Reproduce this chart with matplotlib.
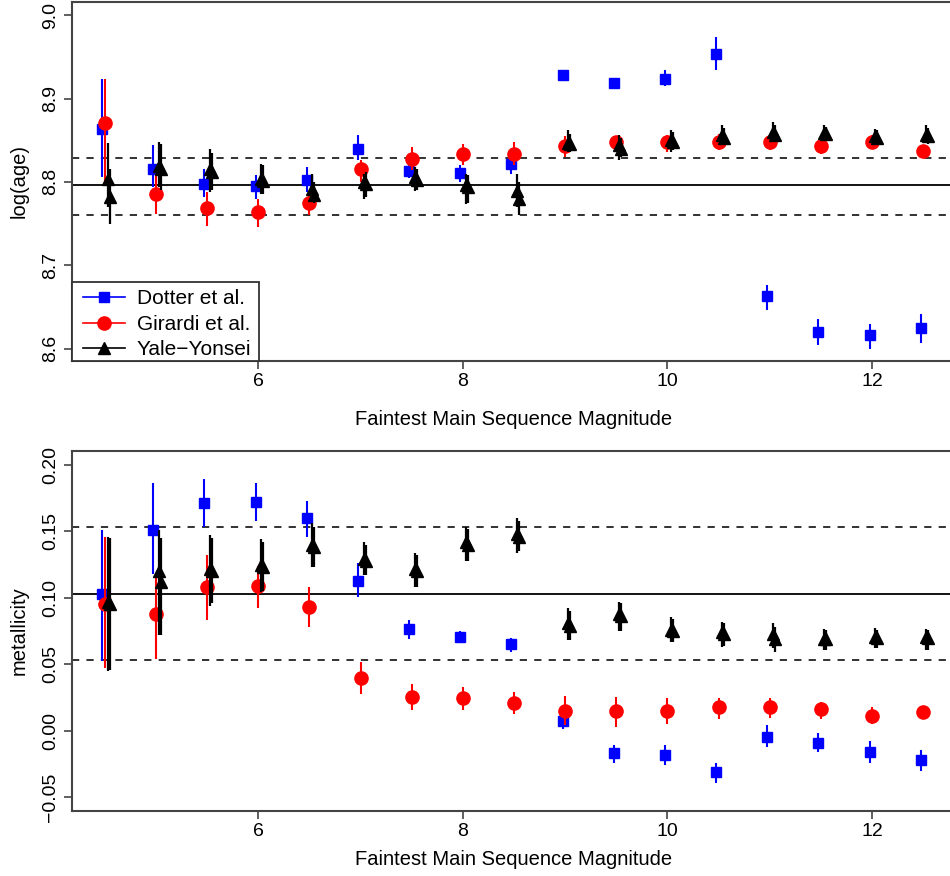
import matplotlib
matplotlib.use("Agg")
import matplotlib.pyplot as plt
from matplotlib.lines import Line2D
from matplotlib.patches import Rectangle
import numpy as np

plt.rcParams['font.family'] = ['Liberation Sans', 'DejaVu Sans']

mags = [4.5, 5.0, 5.5, 6.0, 6.5, 7.0, 7.5, 8.0, 8.5, 9.0, 9.5, 10.0, 10.5, 11.0, 11.5, 12.0, 12.5]

# ---------------- log(age) panel ----------------
age_dotter    = [8.864, 8.815, 8.798, 8.795, 8.802, 8.840, 8.813, 8.811, 8.821, 8.928, 8.919, 8.924, 8.954, 8.663, 8.620, 8.616, 8.625]
age_dotter_lo = [8.806, 8.794, 8.782, 8.780, 8.788, 8.826, 8.805, 8.800, 8.810, 8.925, 8.916, 8.915, 8.934, 8.646, 8.604, 8.600, 8.607]
age_dotter_hi = [8.924, 8.844, 8.816, 8.808, 8.818, 8.856, 8.822, 8.820, 8.830, 8.931, 8.922, 8.934, 8.974, 8.676, 8.635, 8.630, 8.642]

age_girardi    = [8.871, 8.785, 8.769, 8.764, 8.775, 8.815, 8.828, 8.833, 8.833, 8.843, 8.848, 8.848, 8.848, 8.848, 8.843, 8.848, 8.837]
age_girardi_lo = [8.800, 8.762, 8.747, 8.746, 8.760, 8.800, 8.814, 8.820, 8.820, 8.830, 8.842, 8.836, 8.838, 8.838, 8.833, 8.840, 8.830]
age_girardi_hi = [8.924, 8.810, 8.788, 8.780, 8.786, 8.826, 8.842, 8.846, 8.848, 8.855, 8.854, 8.856, 8.858, 8.856, 8.853, 8.856, 8.843]

age_yale_a    = [8.804, 8.819, 8.815, 8.803, 8.791, 8.800, 8.806, 8.796, 8.789, 8.847, 8.844, 8.850, 8.856, 8.860, 8.859, 8.855, 8.856]
age_yale_a_lo = [8.770, 8.794, 8.788, 8.786, 8.778, 8.780, 8.789, 8.773, 8.770, 8.836, 8.826, 8.836, 8.846, 8.850, 8.852, 8.848, 8.848]
age_yale_a_hi = [8.847, 8.848, 8.840, 8.822, 8.810, 8.810, 8.818, 8.810, 8.810, 8.862, 8.856, 8.862, 8.868, 8.872, 8.868, 8.864, 8.868]

age_yale_b    = [8.782, 8.815, 8.812, 8.801, 8.784, 8.798, 8.802, 8.794, 8.780, 8.845, 8.840, 8.848, 8.853, 8.856, 8.858, 8.853, 8.855]
age_yale_b_lo = [8.749, 8.790, 8.790, 8.786, 8.775, 8.782, 8.790, 8.775, 8.760, 8.836, 8.830, 8.838, 8.845, 8.848, 8.850, 8.846, 8.846]
age_yale_b_hi = [8.815, 8.845, 8.835, 8.820, 8.800, 8.812, 8.815, 8.808, 8.800, 8.858, 8.853, 8.860, 8.865, 8.868, 8.866, 8.862, 8.865]

age_ref = [8.760, 8.796, 8.829]

# ---------------- metallicity panel ----------------
met_dotter    = [0.1026, 0.151, 0.171, 0.172, 0.160, 0.113, 0.0767, 0.0709, 0.0649, 0.0075, -0.017, -0.018, -0.031, -0.0043, -0.0088, -0.0156, -0.022]
met_dotter_lo = [0.0528, 0.118, 0.153, 0.158, 0.146, 0.1005, 0.069, 0.067, 0.059, 0.0013, -0.024, -0.026, -0.039, -0.012, -0.016, -0.024, -0.030]
met_dotter_hi = [0.151, 0.186, 0.189, 0.186, 0.173, 0.126, 0.083, 0.075, 0.070, 0.0138, -0.011, -0.011, -0.024, 0.004, -0.0013, -0.008, -0.0146]

met_girardi    = [0.0955, 0.0875, 0.108, 0.109, 0.093, 0.040, 0.0256, 0.0246, 0.0209, 0.0151, 0.0146, 0.0151, 0.0176, 0.018, 0.0164, 0.0113, 0.0138]
met_girardi_lo = [0.047, 0.054, 0.083, 0.092, 0.078, 0.028, 0.016, 0.016, 0.0126, 0.004, 0.003, 0.005, 0.0088, 0.010, 0.0088, 0.005, 0.0088]
met_girardi_hi = [0.146, 0.118, 0.132, 0.124, 0.108, 0.0515, 0.035, 0.0327, 0.029, 0.026, 0.0256, 0.0246, 0.0246, 0.0246, 0.022, 0.0176, 0.0176]

met_yale_a    = [0.0968, 0.120, 0.122, 0.125, 0.140, 0.1295, 0.122, 0.142, 0.148, 0.081, 0.0875, 0.076, 0.074, 0.0729, 0.069, 0.0704, 0.0704]
met_yale_a_lo = [0.045, 0.072, 0.094, 0.104, 0.123, 0.117, 0.108, 0.128, 0.134, 0.068, 0.075, 0.0667, 0.0633, 0.062, 0.061, 0.062, 0.061]
met_yale_a_hi = [0.146, 0.151, 0.147, 0.144, 0.156, 0.142, 0.134, 0.153, 0.160, 0.092, 0.097, 0.0855, 0.0817, 0.081, 0.0767, 0.077, 0.0767]

met_yale_b    = [0.095, 0.112, 0.120, 0.123, 0.138, 0.128, 0.120, 0.140, 0.146, 0.079, 0.086, 0.075, 0.073, 0.069, 0.069, 0.070, 0.070]
met_yale_b_lo = [0.046, 0.072, 0.096, 0.105, 0.123, 0.117, 0.108, 0.128, 0.135, 0.068, 0.075, 0.067, 0.064, 0.059, 0.061, 0.062, 0.061]
met_yale_b_hi = [0.145, 0.145, 0.145, 0.142, 0.153, 0.140, 0.132, 0.152, 0.158, 0.090, 0.096, 0.084, 0.081, 0.078, 0.076, 0.076, 0.076]

met_ref = [0.053, 0.103, 0.153]

series_labels = ["Dotter et al.", "Girardi et al.", "Yale\u2212Yonsei"]
xlabel = "Faintest Main Sequence Magnitude"
x_ticks = [6, 8, 10, 12]
age_ticks = [8.6, 8.7, 8.8, 8.9, 9.0]
age_ticklabels = ["8.6", "8.7", "8.8", "8.9", "9.0"]
met_ticks = [-0.05, 0.0, 0.05, 0.10, 0.15, 0.20]
met_ticklabels = ["\u22120.05", "0.00", "0.05", "0.10", "0.15", "0.20"]

BLUE = "#0000ff"
RED = "#ff0000"
BLACK = "#000000"
SPINE = "#444444"

W, H = 950, 876
fig = plt.figure(figsize=(W / 100, H / 100), dpi=100)


def box(l, t, r, b):
    return [l / W, 1 - b / H, (r - l) / W, (b - t) / H]


ax1 = fig.add_axes(box(72, 2, 956, 361))
ax2 = fig.add_axes(box(72, 451, 956, 811))

mx = np.array(mags)


def draw(ax, series, ref, ylim, yticks, yticklabels, ylabel, xlabelpad):
    for vals, lo, hi, dx, color, marker, ms, lw, z in series:
        v = np.array(vals)
        yerr = [v - np.array(lo), np.array(hi) - v]
        ax.errorbar(mx + dx, v, yerr=yerr, fmt=marker, color=color, ms=ms,
                    elinewidth=lw, capsize=0, mec=color, mfc=color, zorder=z)
    ax.axhline(ref[1], color="black", lw=1.3, zorder=1)
    ax.axhline(ref[0], color="#222222", lw=1.3, ls=(0, (4, 4)), zorder=1)
    ax.axhline(ref[2], color="#222222", lw=1.3, ls=(0, (4, 4)), zorder=1)
    ax.set_xlim(4.18, 12.82)
    ax.set_ylim(*ylim)
    ax.set_xticks(x_ticks)
    ax.set_xticklabels([str(t) for t in x_ticks])
    ax.set_yticks(yticks)
    ax.set_yticklabels(yticklabels, rotation=90, va="center")
    ax.tick_params(direction="out", length=6, width=1.2, color=SPINE,
                   labelsize=14, pad=3)
    for s in ax.spines.values():
        s.set_color(SPINE)
        s.set_linewidth(1.5)
    ax.set_xlabel(xlabel, fontsize=14.5, labelpad=xlabelpad)
    ax.set_ylabel(ylabel, fontsize=14.5, labelpad=10)


age_series = [
    (age_dotter, age_dotter_lo, age_dotter_hi, -0.025, BLUE, "s", 6.5, 1.5, 3),
    (age_girardi, age_girardi_lo, age_girardi_hi, 0.0, RED, "o", 9.5, 1.5, 4),
    (age_yale_a, age_yale_a_lo, age_yale_a_hi, 0.03, BLACK, "^", 8.5, 1.6, 5),
    (age_yale_b, age_yale_b_lo, age_yale_b_hi, 0.05, BLACK, "^", 8.5, 1.6, 5),
]
met_series = [
    (met_dotter, met_dotter_lo, met_dotter_hi, -0.025, BLUE, "s", 6.5, 1.5, 3),
    (met_girardi, met_girardi_lo, met_girardi_hi, 0.0, RED, "o", 9.5, 1.5, 4),
    (met_yale_a, met_yale_a_lo, met_yale_a_hi, 0.03, BLACK, "^", 8.5, 1.6, 5),
    (met_yale_b, met_yale_b_lo, met_yale_b_hi, 0.05, BLACK, "^", 8.5, 1.6, 5),
]

draw(ax1, age_series, age_ref, (8.585, 9.016), age_ticks, age_ticklabels, "log(age)", 14)
draw(ax2, met_series, met_ref, (-0.0603, 0.2104), met_ticks, met_ticklabels, "metallicity", 7)

# legend: frame drawn as a white box in the lower-left corner of the top panel
ax1.add_patch(Rectangle((0, 0), 0.2115, 0.2209, transform=ax1.transAxes,
                        facecolor="white", edgecolor="#333333", lw=1.3,
                        zorder=8, clip_on=False))
handles = [
    Line2D([], [], color=BLUE, marker="s", ms=6.5, lw=1.2),
    Line2D([], [], color=RED, marker="o", ms=9.5, lw=1.2),
    Line2D([], [], color=BLACK, marker="^", ms=8.5, lw=1.2),
]
leg = ax1.legend(handles, series_labels, loc="upper left",
                 bbox_to_anchor=(0.0124, 0.1995), borderaxespad=0,
                 borderpad=0, fontsize=15, frameon=False,
                 handlelength=2.0, handletextpad=0.58, labelspacing=0.31)
leg.set_zorder(9)

fig.savefig("out.png", dpi=100)
